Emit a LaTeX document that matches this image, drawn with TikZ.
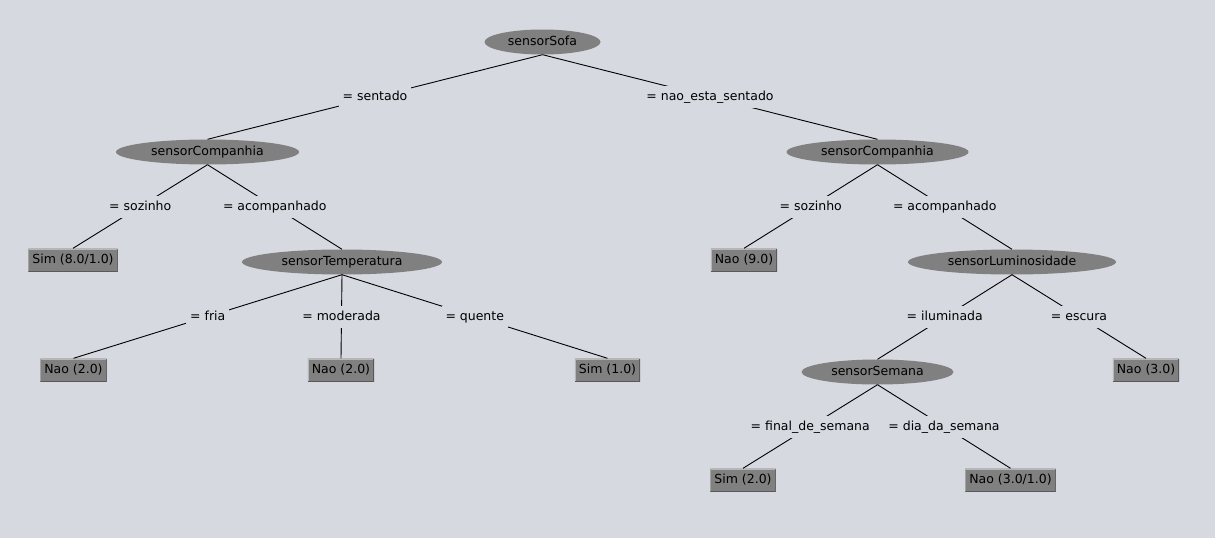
\documentclass[tikz,border=0pt]{standalone}
\usepackage{fontspec}
\setmainfont{DejaVu Sans}
\usetikzlibrary{shapes.geometric}
\definecolor{bg}{RGB}{214,217,224}
\definecolor{nodegray}{RGB}{128,128,128}
\definecolor{lightedge}{RGB}{182,182,182}
\definecolor{darkedge}{RGB}{89,89,89}
\begin{document}
\begin{tikzpicture}[x=1pt,y=-1pt,
  font=\fontsize{12.5}{14}\selectfont,
  txt/.style={text height=9.5pt, text depth=2.5pt},
  split/.style={ellipse, fill=nodegray, inner sep=0pt, minimum height=25pt, txt},
  leaf/.style={rectangle, fill=nodegray, inner xsep=4pt, inner ysep=0pt,
    minimum height=23pt, txt,
    path picture={
      \draw[lightedge, line width=2pt]
        (path picture bounding box.south west) |- (path picture bounding box.north east);
      \draw[darkedge, line width=2pt]
        (path picture bounding box.south west) -| (path picture bounding box.north east);
    }},
  lbl/.style={fill=bg, inner xsep=4pt, inner ysep=0pt, minimum height=22pt, txt},
  branch/.style={draw=black, line width=0.9pt}]

% canvas
\fill[bg] (0,0) rectangle (1215,538);

% decision nodes
\node[split, minimum width=116pt] (sofa)  at (542.5,42)  {sensorSofa};
\node[split, minimum width=183pt] (compL) at (207.5,152) {sensorCompanhia};
\node[split, minimum width=182pt] (compR) at (877.5,152) {sensorCompanhia};
\node[split, minimum width=200pt] (temp)  at (342,262)   {sensorTemperatura};
\node[split, minimum width=208pt] (lum)   at (1012,262)  {sensorLuminosidade};
\node[split, minimum width=152pt] (sem)   at (877.5,372) {sensorSemana};

% leaves
\node[leaf] (simA) at (73,260)    {Sim (8.0/1.0)};
\node[leaf] (naoA) at (73.5,370)  {Nao (2.0)};
\node[leaf] (naoB) at (341,370)   {Nao (2.0)};
\node[leaf] (simB) at (607.5,370) {Sim (1.0)};
\node[leaf] (naoC) at (744,260)   {Nao (9.0)};
\node[leaf] (naoD) at (1146,370)  {Nao (3.0)};
\node[leaf] (simC) at (743,480)   {Sim (2.0)};
\node[leaf] (naoE) at (1010.5,480){Nao (3.0/1.0)};

% branches with their tests
\path[branch] (sofa.south)  -- node[lbl] {= sentado} (compL.north);
\path[branch] (sofa.south)  -- node[lbl] {= nao\_esta\_sentado} (compR.north);
\path[branch] (compL.south) -- node[lbl] {= sozinho} (simA.north);
\path[branch] (compL.south) -- node[lbl] {= acompanhado} (temp.north);
\path[branch] (temp.south)  -- node[lbl] {= fria} (naoA.north);
\path[branch] (temp.south)  -- node[lbl] {= moderada} (naoB.north);
\path[branch] (temp.south)  -- node[lbl] {= quente} (simB.north);
\path[branch] (compR.south) -- node[lbl] {= sozinho} (naoC.north);
\path[branch] (compR.south) -- node[lbl] {= acompanhado} (lum.north);
\path[branch] (lum.south)   -- node[lbl] {= iluminada} (sem.north);
\path[branch] (lum.south)   -- node[lbl] {= escura} (naoD.north);
\path[branch] (sem.south)   -- node[lbl] {= final\_de\_semana} (simC.north);
\path[branch] (sem.south)   -- node[lbl] {= dia\_da\_semana} (naoE.north);
\end{tikzpicture}
\end{document}
